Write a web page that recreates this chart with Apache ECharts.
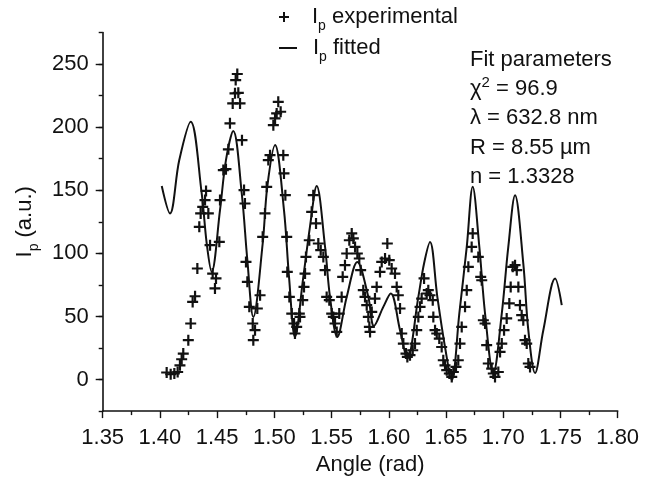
<!DOCTYPE html>
<html>
<head>
<meta charset="utf-8">
<script src="https://cdn.jsdelivr.net/npm/echarts@6/dist/echarts.min.js"></script>
<style>
  html, body { margin: 0; padding: 0; background: #fff; }
  #chart { width: 650px; height: 481px; }
</style>
</head>
<body>
<div id="chart"></div>
<script>
// experimental points
const expAngle = [
  1.4059, 1.4094, 1.4126, 1.4155, 1.4175, 1.4190, 1.4204, 1.4248, 1.4269, 1.4286,
  1.4307, 1.4327, 1.4344, 1.4356, 1.4374, 1.4394, 1.4403, 1.4423, 1.4438, 1.4461,
  1.4481, 1.4490, 1.4519, 1.4525, 1.4554, 1.4577, 1.4598, 1.4612, 1.4636, 1.4656,
  1.4662, 1.4676, 1.4685, 1.4700, 1.4717, 1.4735, 1.4743, 1.4752, 1.4764, 1.4781,
  1.4811, 1.4816, 1.4831, 1.4851, 1.4875, 1.4898, 1.4918, 1.4933, 1.4947, 1.4962,
  1.4991, 1.5006, 1.5020, 1.5034, 1.5055, 1.5078, 1.5084, 1.5096, 1.5108, 1.5113,
  1.5131, 1.5152, 1.5172, 1.5180, 1.5195, 1.5218,
  1.5224, 1.5248, 1.5259, 1.5268, 1.5276, 1.5305, 1.5326, 1.5340, 1.5364, 1.5384,
  1.5405, 1.5428, 1.5443, 1.5457, 1.5480, 1.5501, 1.5515, 1.5530, 1.5545, 1.5567,
  1.5588, 1.5597, 1.5617, 1.5632, 1.5655, 1.5676, 1.5690, 1.5705, 1.5725, 1.5742,
  1.5754, 1.5777, 1.5792, 1.5807, 1.5821, 1.5830, 1.5836, 1.5851, 1.5879, 1.5894,
  1.5923, 1.5938, 1.5967, 1.5987, 1.6004, 1.6025, 1.6054, 1.6069, 1.6083, 1.6098,
  1.6113, 1.6127, 1.6150, 1.6162, 1.6185, 1.6209, 1.6229, 1.6244, 1.6258, 1.6273,
  1.6287, 1.6308, 1.6331, 1.6345, 1.6360, 1.6384, 1.6389, 1.6404, 1.6419, 1.6441,
  1.6462, 1.6476, 1.6491, 1.6506, 1.6529, 1.6550, 1.6564, 1.6587, 1.6607, 1.6622,
  1.6637, 1.6666, 1.6681,
  1.6695, 1.6724, 1.6733, 1.6782, 1.6803, 1.6812, 1.6826, 1.6841, 1.6855, 1.6869,
  1.6899, 1.6913, 1.6928, 1.6957, 1.6972, 1.6987, 1.7007, 1.7030, 1.7053, 1.7065,
  1.7083, 1.7103, 1.7118, 1.7132, 1.7146, 1.7161, 1.7175, 1.7190, 1.7205, 1.7219,
  1.7234
];
const expIntensity = [
  5.6, 4.2, 4.8, 6.0, 11.3, 16.1, 20.6, 31.2, 44.4, 61.5,
  66.0, 88.0, 121.0, 131.6, 136.9, 142.2, 149.5, 131.6, 106.5, 84.0,
  72.2, 80.1, 109.1, 142.2, 166.0, 166.7, 182.4, 203.0, 218.8, 226.8,
  237.3, 242.1, 227.2, 218.8, 189.7, 150.1, 139.5, 93.2, 77.4, 57.6,
  44.4, 31.2, 39.1, 56.3, 66.8, 113.1, 131.6, 152.7, 173.9, 177.8,
  201.6, 206.9, 210.9, 220.1, 212.2, 177.8, 163.3, 146.1, 113.1, 85.3,
  65.5, 52.3, 44.4, 36.5, 41.7, 52.3,
  49.6, 62.9, 73.4, 84.0, 97.2, 110.4, 132.9, 146.1, 123.7, 107.8,
  102.5, 97.2, 86.7, 65.5, 62.9, 52.3, 49.6, 44.4, 37.7, 52.3,
  65.5, 81.4, 90.6, 99.9, 110.4, 115.8, 111.8, 105.1, 99.9, 95.9,
  86.7, 70.8, 65.5, 58.9, 49.6, 41.7, 37.7, 53.6, 64.2, 73.4,
  85.3, 93.2, 95.9, 107.8, 94.6, 88.0, 84.0, 73.4, 66.8, 56.3,
  36.5, 28.5, 20.6, 17.9, 19.3, 23.2, 28.5, 39.1, 49.6, 57.6,
  64.2, 80.1, 68.2, 70.8, 66.8, 62.9, 49.6, 39.1, 36.5, 32.5,
  25.8, 15.3, 11.3, 7.4, 4.8, 2.1, 6.0, 10.0, 15.3, 28.5,
  41.7, 57.6, 70.8,
  89.3, 105.1, 115.8, 97.2, 81.4, 78.7, 47.0, 44.4, 27.2, 12.7,
  8.7, 4.8, 2.1, 6.0, 21.9, 28.5, 39.1, 48.4, 60.3, 73.4,
  89.3, 90.6, 86.7, 73.4, 58.9, 51.0, 47.0, 31.2, 28.5, 12.7,
  10.0
];

// fitted curve (extremes plus points on the flanks)
const fitAngle = [
  1.4016, 1.4088, 1.4169, 1.4269, 1.4365, 1.4409, 1.4452, 1.4525, 1.4577, 1.4641,
  1.4715, 1.4764, 1.4816, 1.4898, 1.4938, 1.5006, 1.5084, 1.5128, 1.5180, 1.5253,
  1.5311, 1.5370, 1.5443, 1.5486, 1.5550, 1.5632, 1.5725, 1.5821, 1.5870, 1.5952,
  1.6017, 1.6098, 1.6162, 1.6258, 1.6308, 1.6360, 1.6424, 1.6491, 1.6550, 1.6616,
  1.6681, 1.6733, 1.6791, 1.6841, 1.6913, 1.6987, 1.7044, 1.7103, 1.7175, 1.7219,
  1.7278, 1.7350, 1.7453, 1.7511
];
const fitIntensity = [
  153.3, 131.6, 173.9, 204.3, 147.5, 107.8, 85.3, 134.2, 173.9, 197.0,
  147.5, 94.6, 49.6, 107.8, 152.7, 185.8, 134.2, 81.4, 33.8, 81.4,
  121.0, 153.3, 105.1, 65.5, 33.8, 65.5, 93.2, 65.5, 42.5, 57.6,
  68.2, 39.1, 16.7, 65.5, 92.0, 109.0, 65.5, 25.8, -0.5, 52.3,
  105.1, 152.7, 105.1, 52.3, 4.8, 52.3, 105.1, 146.0, 92.0, 39.1,
  5.2, 39.1, 80.0, 59.0
];

const xTicks = { min: 1.35, max: 1.80, step: 0.05 };
const yMajorTicks = [0, 50, 100, 150, 200, 250];
const fitParams = ['Fit parameters', '{t|χ}{sup|2}{t| = 96.9}', 'λ = 632.8 nm', 'R = 8.55 µm', 'n = 1.3328'];

const FONT = '"Liberation Sans", Arial, Helvetica, sans-serif';
const INK = '#111';
const FS = 22;
const PLUS = 'path://M4,0H6V4H10V6H6V10H4V6H0V4H4Z';

const chart = echarts.init(document.getElementById('chart'));

const subRich = {
  a: { fontSize: FS, fontFamily: FONT, color: INK, lineHeight: 26 },
  s: { fontSize: 14, fontFamily: FONT, color: INK, lineHeight: 14, verticalAlign: 'bottom', padding: [0, 0, -3, 0] }
};

chart.setOption({
  animation: false,
  backgroundColor: '#fff',
  textStyle: { fontFamily: FONT, color: INK },
  grid: { left: 102.7, right: 32.3, top: 32.5, bottom: 69.3 },
  legend: [
    {
      left: 279, top: 6, padding: 0, selectedMode: false,
      itemWidth: 10, itemHeight: 10,
      data: [{ name: 'Ip experimental', icon: PLUS }],
      formatter: '{g|}{a|I}{s|p}{a| experimental}',
      textStyle: { rich: Object.assign({ g: { width: 18 } }, subRich) }
    },
    {
      left: 279, top: 37, padding: 0, selectedMode: false,
      itemWidth: 18, itemHeight: 2,
      data: [{ name: 'Ip fitted', icon: 'rect' }],
      formatter: '{g|}{a|I}{s|p}{a| fitted}',
      textStyle: { rich: Object.assign({ g: { width: 11 } }, subRich) }
    }
  ],
  xAxis: {
    type: 'value',
    min: xTicks.min, max: xTicks.max, interval: xTicks.step,
    name: 'Angle (rad)',
    nameLocation: 'middle', nameGap: 41,
    nameTextStyle: { fontSize: FS, color: INK, fontFamily: FONT, padding: [0, 0, 0, 20] },
    axisLine: { onZero: false, lineStyle: { color: INK, width: 1.6 } },
    axisTick: { length: 7, lineStyle: { color: INK, width: 1.4 } },
    minorTick: { show: true, splitNumber: 2, length: 4, lineStyle: { color: INK, width: 1.4 } },
    splitLine: { show: false },
    axisLabel: {
      fontSize: FS, color: INK, fontFamily: FONT, margin: 16,
      showMinLabel: true, showMaxLabel: true,
      formatter: v => v.toFixed(2)
    }
  },
  yAxis: [
    {
      type: 'value', position: 'left', min: -25, max: 275,
      axisLine: { show: true, onZero: false, lineStyle: { color: INK, width: 1.6 } },
      axisTick: { show: true, customValues: yMajorTicks, length: 7, lineStyle: { color: INK, width: 1.4 } },
      axisLabel: { customValues: yMajorTicks, fontSize: FS, color: INK, fontFamily: FONT, margin: 14 },
      splitLine: { show: false },
      name: '{a|I}{s|p}{a| (a.u.)}',
      nameLocation: 'middle', nameGap: 62, nameRotate: 90,
      nameTextStyle: { rich: subRich }
    },
    {
      type: 'value', position: 'left', offset: 0, min: -25, max: 275, interval: 25,
      axisLine: { show: false, onZero: false },
      axisTick: { show: true, length: 4, lineStyle: { color: INK, width: 1.4 } },
      axisLabel: { show: false },
      splitLine: { show: false }
    }
  ],
  graphic: [{
    type: 'text', left: 470, top: 49,
    style: {
      text: fitParams.map(s => s.startsWith('{') ? s : '{t|' + s + '}').join('\n'),
      fill: INK,
      rich: {
        t: { fontSize: FS, fontFamily: FONT, fill: INK, lineHeight: 29.2 },
        sup: { fontSize: 15, fontFamily: FONT, fill: INK, lineHeight: 15, verticalAlign: 'top', padding: [1, 0, 0, 0] }
      }
    }
  }],
  series: [
    {
      name: 'Ip fitted',
      type: 'line',
      data: fitAngle.map((x, i) => [x, fitIntensity[i]]),
      smooth: 0.35,
      symbol: 'none',
      lineStyle: { color: INK, width: 2 },
      itemStyle: { color: INK }
    },
    {
      name: 'Ip experimental',
      type: 'scatter',
      data: expAngle.map((x, i) => [x, expIntensity[i]]),
      symbol: PLUS,
      symbolSize: 11,
      itemStyle: { color: INK, opacity: 1 }
    }
  ]
});
</script>
</body>
</html>
